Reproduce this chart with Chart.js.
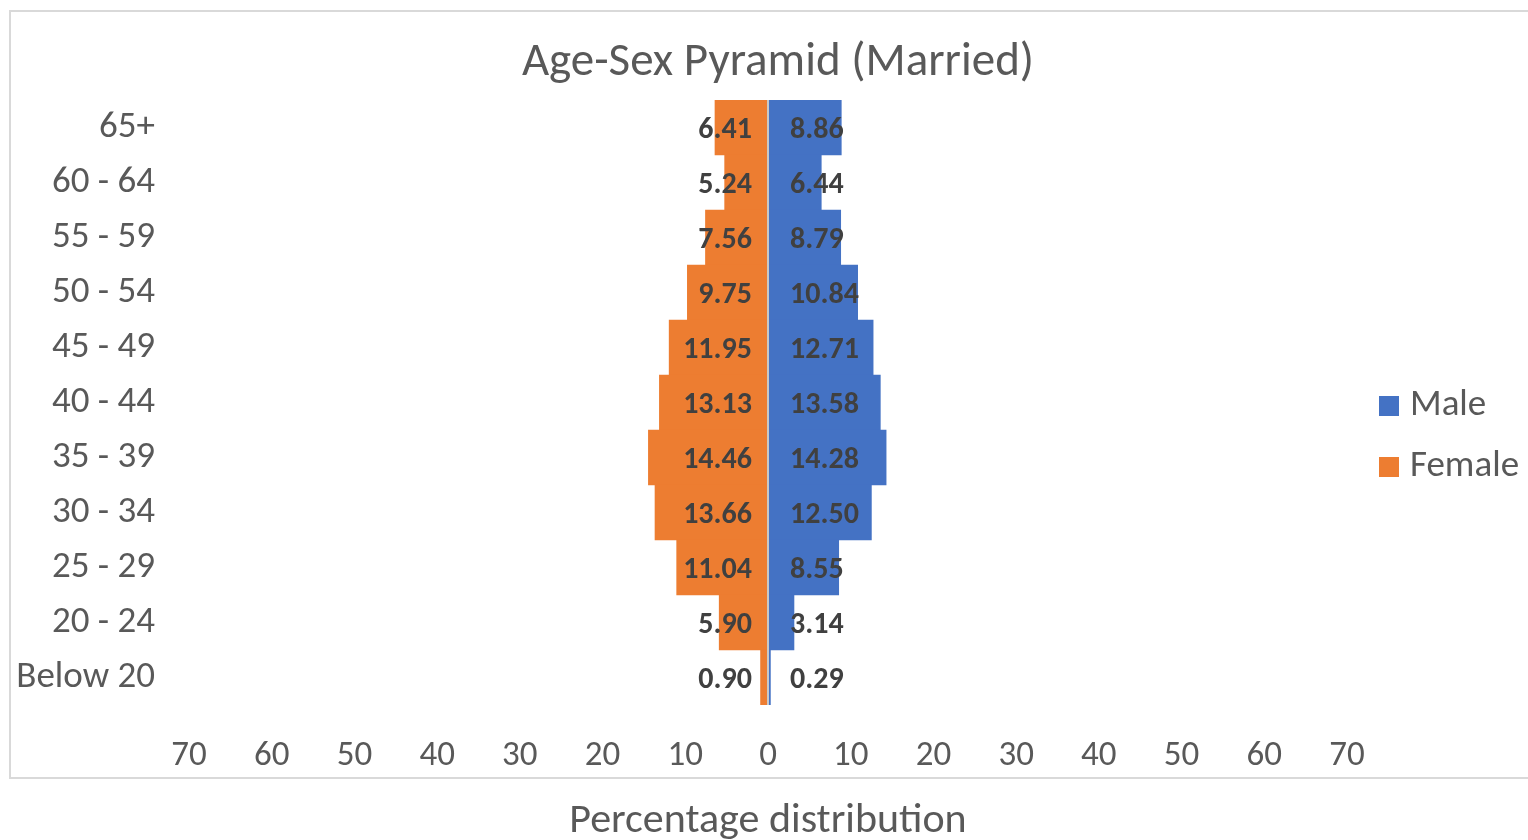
<!DOCTYPE html>
<html>
<head>
<meta charset="utf-8">
<title>Age-Sex Pyramid (Married)</title>
<script src="https://cdn.jsdelivr.net/npm/chart.js@4/dist/chart.umd.min.js"></script>
<style>
  html, body { margin: 0; padding: 0; background: #ffffff; }
  #wrap { width: 1528px; height: 840px; position: relative; }
</style>
</head>
<body>
<div id="wrap"><canvas id="pyramid" width="1528" height="840"></canvas></div>
<script>
"use strict";
// age groups, top to bottom
const ageGroups = ["65+", "60 - 64", "55 - 59", "50 - 54", "45 - 49", "40 - 44",
    "35 - 39", "30 - 34", "25 - 29", "20 - 24", "Below 20"];
const maleValues = [8.86, 6.44, 8.79, 10.84, 12.71, 13.58, 14.28, 12.50, 8.55, 3.14, 0.29];
const femaleValues = [6.41, 5.24, 7.56, 9.75, 11.95, 13.13, 14.46, 13.66, 11.04, 5.90, 0.90];
const axisTicks = [-70, -60, -50, -40, -30, -20, -10, 0, 10, 20, 30, 40, 50, 60, 70];

const chartTitle = "Age-Sex Pyramid (Married)";
const xTitle = "Percentage distribution";
const textColor = "#595959";
const fontFamily = "Carlito, Calibri, Lato, 'Open Sans', sans-serif";

// frame, title, centre line, value labels and legend
const pyramidDecor = {
    id: "pyramidDecor",
    beforeDraw(chart) {
        const ctx = chart.ctx;
        ctx.save();
        ctx.fillStyle = "#ffffff";
        ctx.fillRect(0, 0, chart.width, chart.height);
        ctx.strokeStyle = "#d9d9d9";
        ctx.lineWidth = 2;
        ctx.strokeRect(10, 11, chart.width + 20, 767);
        ctx.fillStyle = textColor;
        ctx.font = "47px " + fontFamily;
        ctx.textAlign = "center";
        ctx.textBaseline = "middle";
        ctx.fillText(chartTitle, 778, 63);
        ctx.restore();
    },
    afterDatasetsDraw(chart) {
        const ctx = chart.ctx;
        const xs = chart.scales.x;
        const zero = xs.getPixelForValue(0);
        const area = chart.chartArea;
        ctx.save();
        ctx.strokeStyle = "#c8c8c8";
        ctx.lineWidth = 2;
        ctx.beginPath();
        ctx.moveTo(zero, area.top);
        ctx.lineTo(zero, area.bottom);
        ctx.stroke();
        ctx.fillStyle = "#404040";
        ctx.font = "bold 30px " + fontFamily;
        ctx.textBaseline = "middle";
        chart.data.datasets.forEach((ds, i) => {
            const meta = chart.getDatasetMeta(i);
            meta.data.forEach((bar, j) => {
                const v = Math.abs(ds.data[j]).toFixed(2);
                if (ds.data[j] < 0) {
                    ctx.textAlign = "right";
                    ctx.fillText(v, zero - 16, bar.y + 3);
                } else {
                    ctx.textAlign = "left";
                    ctx.fillText(v, zero + 22, bar.y + 3);
                }
            });
        });
        // legend
        ctx.font = "37px " + fontFamily;
        ctx.textAlign = "left";
        chart.data.datasets.forEach((ds, i) => {
            const y = 406 + i * 61;
            ctx.fillStyle = ds.backgroundColor;
            ctx.fillRect(1379, y - 10, 20, 20);
            ctx.fillStyle = textColor;
            ctx.fillText(ds.label, 1410, y);
        });
        ctx.restore();
    }
};

new Chart("pyramid", {
    type: "bar",
    data: {
        labels: ageGroups,
        datasets: [
            {
                label: "Male",
                data: maleValues,
                backgroundColor: "#4472C4",
            },
            {
                label: "Female",
                data: femaleValues.map(v => -v),
                backgroundColor: "#ED7D31",
            },
        ],
    },
    options: {
        indexAxis: "y",
        responsive: false,
        animation: false,
        barPercentage: 1,
        categoryPercentage: 1,
        layout: { padding: { left: 0, right: 0, top: 100, bottom: 0 } },
        scales: {
            x: {
                stacked: true,
                min: -70,
                max: 70,
                afterBuildTicks: s => { s.ticks = axisTicks.map(v => ({ value: v })); },
                afterFit: s => { s.height = 135; },
                grid: { display: false },
                border: { display: false },
                ticks: {
                    padding: 22,
                    color: textColor,
                    font: { family: fontFamily, size: 35 },
                    callback: v => Math.abs(v),
                },
                title: {
                    display: true,
                    text: xTitle,
                    color: textColor,
                    font: { family: fontFamily, size: 42, lineHeight: 0.9 },
                    padding: { top: 0, bottom: 0 },
                },
            },
            y: {
                stacked: true,
                afterFit: s => { s.width = 189; },
                grid: { display: false },
                border: { display: false },
                ticks: {
                    padding: 26,
                    color: textColor,
                    font: { family: fontFamily, size: 37 },
                },
            },
            y2: {
                type: "linear",
                position: "right",
                afterFit: s => { s.width = 181; },
                grid: { display: false },
                border: { display: false },
                ticks: { display: false },
            },
        },
        plugins: {
            legend: { display: false },
            title: { display: false },
            tooltip: {
                callbacks: {
                    label: c => `${c.dataset.label}: ${Math.abs(c.raw).toFixed(2)}`,
                },
            },
        },
    },
    plugins: [pyramidDecor],
});
</script>
</body>
</html>
